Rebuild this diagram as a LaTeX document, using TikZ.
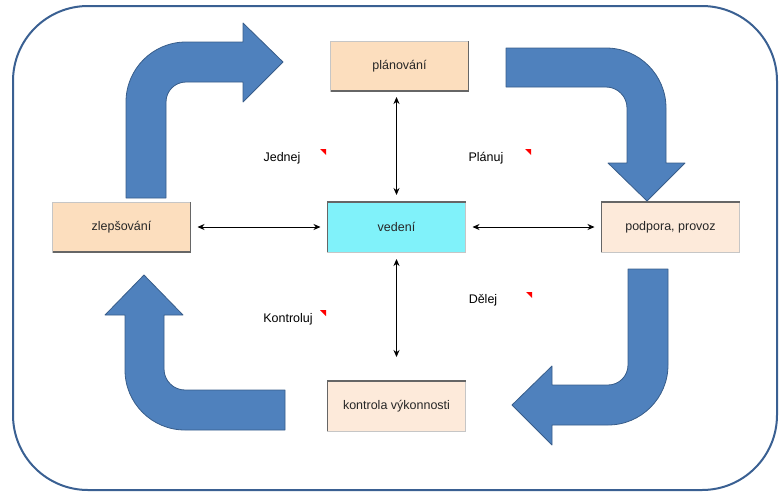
\documentclass[tikz,border=0pt]{standalone}
\usepackage{fontspec}
\setmainfont{Liberation Sans}
\usepackage{tikz}
\usetikzlibrary{positioning, arrows.meta}
\usepackage{xcolor}
\definecolor{arrowblue}{RGB}{79,129,189}
\definecolor{arrowedge}{RGB}{56,93,138}
\definecolor{framecol}{RGB}{58,96,146}
\definecolor{peach}{RGB}{252,222,190}
\definecolor{lightpeach}{RGB}{253,234,218}
\definecolor{cyanfill}{RGB}{128,242,250}

\tikzset{
  box/.style={draw=gray!45, line width=0.6pt, minimum width=138pt, minimum height=50pt,
    inner sep=0pt, outer sep=0pt, text=black!85},
  raised/.style={box, fill=peach},
  sunken/.style={box, fill=lightpeach},
  darkside/.style={draw=black!60, line width=1.2pt},
  link/.style={<->, >={Stealth[length=7pt,width=6pt]}, line width=0.8pt,
    shorten <=7pt, shorten >=7pt},
  bigarrow/.style={fill=arrowblue, draw=arrowedge, line width=0.8pt, line join=round},
  marker/.style={fill=red}
}

\begin{document}
\begin{tikzpicture}[x=1pt, y=-1pt, font=\fontsize{12.5}{15}\selectfont]
\useasboundingbox (0,0) rectangle (779,493);
\draw[framecol, line width=2pt, rounded corners=75pt] (13,6) rectangle (777,490);

\node[sunken, fill=cyanfill] (vedeni) at (396.5,227) {vedení};
\node[raised, above=111pt of vedeni, xshift=3pt] (planovani) {plánování};
\node[raised, left=137pt of vedeni] (zlepsovani) {zlepšování};
\node[sunken, right=136pt of vedeni] (podpora) {podpora, provoz};
\node[sunken, below=129pt of vedeni] (kontrola) {kontrola výkonnosti};

\draw[darkside] (planovani.north east) -- (planovani.south east) -- (planovani.south west);
\draw[darkside] (zlepsovani.north east) -- (zlepsovani.south east) -- (zlepsovani.south west);
\draw[darkside] (vedeni.south west) -- (vedeni.north west) -- (vedeni.north east);
\draw[darkside] (podpora.south west) -- (podpora.north west) -- (podpora.north east);
\draw[darkside] (kontrola.south west) -- (kontrola.north west) -- (kontrola.north east);

\draw
(zlepsovani) edge[link] (vedeni)
(vedeni) edge[link] (podpora)
(vedeni.north |- planovani.south) edge[link, shorten <=6pt] (vedeni.north)
(vedeni) edge[link, shorten >=24pt] (kontrola);

\node (jednej) at (282,158) {Jednej};
\node (planuj) at (486,158) {Plánuj};
\node (delej) at (483,300) {Dělej};
\node (kontroluj) at (288,319) {Kontroluj};
\fill[marker] (320,149) -- (326,149) -- (326,155) -- cycle;
\fill[marker] (525,149) -- (531,149) -- (531,155) -- cycle;
\fill[marker] (526,292) -- (532,292) -- (532,298) -- cycle;
\fill[marker] (320,310) -- (326,310) -- (326,316) -- cycle;

% big cycle arrows
\draw[bigarrow] (126,198) -- (126,102) arc[start angle=180, end angle=90, radius=60pt]
  -- (243,42) -- (243,23) -- (283,62) -- (243,102) -- (243,82) -- (186,82)
  arc[start angle=90, end angle=180, radius=20pt] -- (166,198) -- cycle;
\draw[bigarrow] (506,48) -- (606,48) arc[start angle=90, end angle=0, radius=60pt]
  -- (666,163) -- (685,163) -- (647,201) -- (608,163) -- (627,163) -- (627,108)
  arc[start angle=0, end angle=90, radius=21pt] -- (506,87) -- cycle;
\draw[bigarrow] (628,269) -- (668,269) -- (668,365) arc[start angle=0, end angle=-90, radius=60pt]
  -- (552,425) -- (552,445) -- (512,405) -- (552,366) -- (552,385) -- (608,385)
  arc[start angle=-90, end angle=0, radius=20pt] -- cycle;
\draw[bigarrow] (285,430) -- (185,430) arc[start angle=-90, end angle=-180, radius=60pt]
  -- (125,315) -- (105,315) -- (144,275) -- (183,315) -- (164,315) -- (164,369)
  arc[start angle=180, end angle=270, radius=21pt] -- (285,390) -- cycle;
\end{tikzpicture}
\end{document}
